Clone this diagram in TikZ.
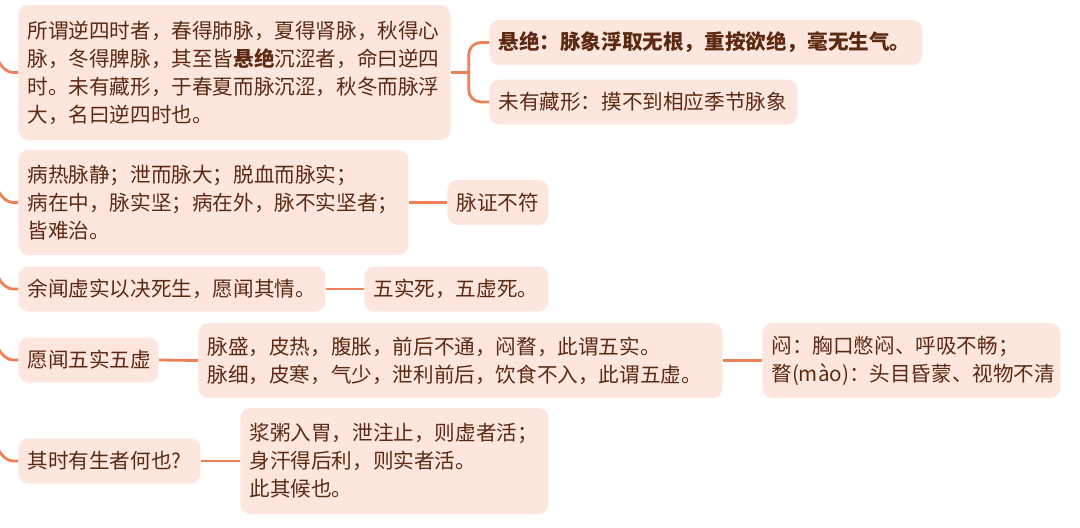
\documentclass[tikz,border=0pt]{standalone}
\usepackage{fontspec}
\newfontfamily\cjk{Noto Sans CJK SC}
\definecolor{notefill}{RGB}{253,230,222}
\definecolor{notetext}{RGB}{92,42,18}
\definecolor{branchline}{RGB}{238,128,88}
\usetikzlibrary{positioning, calc}

\begin{document}
\begin{tikzpicture}[
  x=0.5pt, y=-0.5pt,
  note/.style={fill=notefill, rounded corners=5pt, text=notetext, anchor=west, align=left, inner xsep=4.5pt, inner ysep=0pt, font=\cjk\fontsize{10.3}{14}\selectfont},
  leaf/.style={note, minimum height=22.5pt},
  link/.style={draw=branchline, line width=1.4pt}
]
  \useasboundingbox (0,0) rectangle (1080,527);

  \node[note, text width=207pt, minimum height=67.5pt] (nisi) at (18,72.5) {
    所谓逆四时者，春得肺脉，夏得肾脉，秋得心\\
    脉，冬得脾脉，其至皆\textbf{悬绝}沉涩者，命曰逆四\\
    时。未有藏形，于春夏而脉沉涩，秋冬而脉浮\\
    大，名曰逆四时也。
  };
  \node[leaf, text width=207.5pt] (xuanjue) at (489,42.5) {\textbf{悬绝：脉象浮取无根，重按欲绝，毫无生气。}};
  \node[leaf, text width=145pt] (wucang) at (489,102) {未有藏形：摸不到相应季节脉象};

  \node[note, text width=186pt, minimum height=52.5pt] (mzlist) at (18,202.5) {
    病热脉静；泄而脉大；脱血而脉实；\\
    病在中，脉实坚；病在外，脉不实坚者；\\
    皆难治。
  };
  \node[leaf, text width=41.5pt] (mzbufu) at (447,202.5) {脉证不符};

  \node[leaf, text width=144.5pt] (wenqing) at (18,289) {余闻虚实以决死生，愿闻其情。};
  \node[leaf, text width=83pt] (wusi) at (364,289) {五实死，五虚死。};

  \node[leaf, text width=61pt] (wenwu) at (18,360) {愿闻五实五虚};
  \node[note, text width=253pt, minimum height=37.5pt] (wulist) at (198,360.5) {
    脉盛，皮热，腹胀，前后不通，闷瞀，此谓五实。\\
    脉细，皮寒，气少，泄利前后，饮食不入，此谓五虚。
  };
  \node[note, text width=140pt, minimum height=37.5pt] (menmao) at (762,360.5) {
    闷：胸口憋闷、呼吸不畅；\\
    瞀(mào)：头目昏蒙、视物不清
  };

  \node[leaf, text width=82pt] (youshen) at (18,461) {其时有生者何也?};
  \node[note, text width=145pt, minimum height=53pt] (houye) at (240,461) {
    浆粥入胃，泄注止，则虚者活；\\
    身汗得后利，则实者活。\\
    此其候也。
  };

  \coordinate (fork) at ([xshift=9pt]nisi.east);
  \draw[link] (nisi.east) -- (fork);
  \draw[link, rounded corners=6pt] (fork) |- (xuanjue.west);
  \draw[link, rounded corners=6pt] (fork) |- (wucang.west);
  \draw[link] (mzlist.east) -- (mzbufu.west);
  \draw[link] (wenqing.east) -- (wusi.west);
  \draw[link] (wenwu.east) -- (wulist.west);
  \draw[link] (wulist.east) -- (menmao.west);
  \draw[link] (youshen.east) -- (houye.west);

  \foreach \n in {nisi, mzlist, wenqing, wenwu, youshen}
    \draw[link] ([xshift=-10pt, yshift=6pt]\n.west) to[out=-60, in=180] ([xshift=-2pt]\n.west) -- (\n.west);
\end{tikzpicture}
\end{document}
